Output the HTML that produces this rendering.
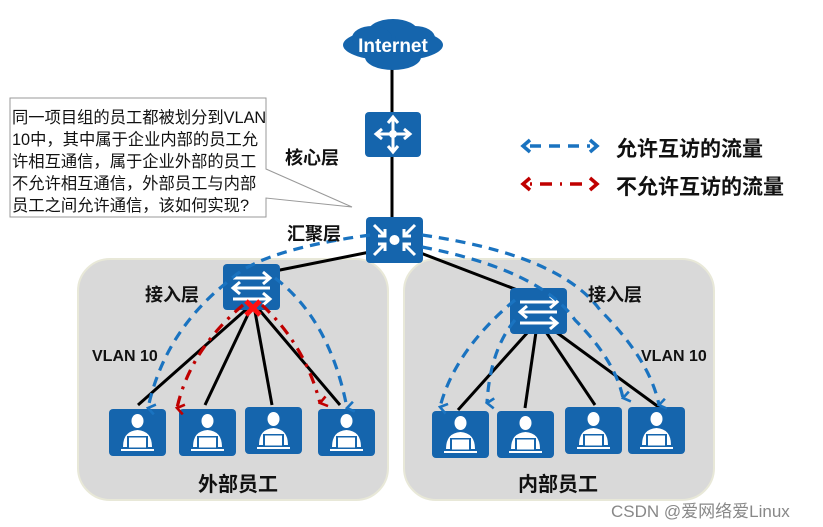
<!DOCTYPE html>
<html><head><meta charset="utf-8"><style>
html,body{margin:0;padding:0;background:#fff;}
svg{display:block;font-family:"Liberation Sans","Noto Sans CJK SC",sans-serif;}
.b{font-weight:bold;fill:#111;}
</style></head><body>
<svg width="823" height="527" viewBox="0 0 823 527" xmlns="http://www.w3.org/2000/svg">
<defs>
<g id="pc">
<rect x="0" y="0" width="57" height="47" rx="4" fill="#1565ad"/>
<ellipse cx="28.5" cy="12" rx="6" ry="7" fill="#fff"/>
<path d="M14 38 Q14 22 28.5 21 Q43 22 43 38 Z" fill="#fff"/>
<rect x="18" y="27" width="21" height="13" fill="#1565ad"/>
<rect x="20" y="28.5" width="17" height="10" fill="#fff"/>
<rect x="12" y="40" width="33" height="2" fill="#fff"/>
</g>
<g id="sw">
<rect x="0" y="0" width="57" height="46" rx="4" fill="#1565ad"/>
<g stroke="#fff" stroke-width="3" fill="none">
<path d="M10 14 H46 M40 8 L47 14 L40 20"/>
<path d="M47 24 H11 M17 18 L10 24 L17 30"/>
<path d="M10 35 H46 M40 29 L47 35 L40 41"/>
</g>
</g>
<marker id="ab" markerWidth="12" markerHeight="12" refX="6" refY="10" orient="auto-start-reverse" markerUnits="userSpaceOnUse" viewBox="0 0 12 12"><path d="M1 3 L6 10 L11 3" stroke="#1a73c0" stroke-width="2.6" fill="none"/></marker>
<marker id="ar" markerWidth="12" markerHeight="12" refX="6" refY="10" orient="auto-start-reverse" markerUnits="userSpaceOnUse" viewBox="0 0 12 12"><path d="M1 3 L6 10 L11 3" stroke="#c00000" stroke-width="2.6" fill="none"/></marker>
</defs>

<rect x="78" y="259" width="310" height="241" rx="32" fill="#d9d9d9" stroke="#e8e8d8" stroke-width="2"/>
<rect x="404" y="259" width="310" height="241" rx="32" fill="#d9d9d9" stroke="#e8e8d8" stroke-width="2"/>

<g stroke="#000" stroke-width="3">
<line x1="392" y1="66" x2="392" y2="220"/>
<line x1="370" y1="252" x2="275" y2="271"/>
<line x1="418" y1="252" x2="520" y2="291"/>
<line x1="250" y1="306" x2="138" y2="405"/>
<line x1="252" y1="306" x2="205" y2="405"/>
<line x1="254" y1="306" x2="272" y2="405"/>
<line x1="256" y1="306" x2="340" y2="405"/>
<line x1="528" y1="332" x2="458" y2="410"/>
<line x1="536" y1="332" x2="525" y2="408"/>
<line x1="546" y1="332" x2="595" y2="405"/>
<line x1="556" y1="332" x2="660" y2="408"/>
</g>

<g fill="#1565ad">
<ellipse cx="393" cy="45" rx="50" ry="16"/>
<ellipse cx="393" cy="32" rx="25" ry="13"/>
<ellipse cx="372" cy="38" rx="20" ry="12"/>
<ellipse cx="415" cy="38" rx="20" ry="12"/>
<ellipse cx="393" cy="57" rx="28" ry="13"/>
</g>
<text x="393" y="52" text-anchor="middle" font-size="19" font-weight="bold" fill="#fff">Internet</text>

<rect x="365" y="112" width="56" height="45" rx="4" fill="#1565ad"/>
<g stroke="#fff" stroke-width="3" fill="none">
<path d="M393 118 V151 M377 134 H409"/>
<path d="M388 123 L393 117 L398 123 M388 146 L393 152 L398 146 M382 129 L376 134 L382 139 M404 129 L410 134 L404 139"/>
</g>
<circle cx="393" cy="134" r="4" fill="#fff"/>

<rect x="366" y="217" width="57" height="46" rx="4" fill="#1565ad"/>
<circle cx="394.5" cy="240" r="5" fill="#fff"/>
<g stroke="#fff" stroke-width="3" fill="none">
<path d="M374 225 L385 236 M378 236 H385 V229"/>
<path d="M415 225 L404 236 M411 236 H404 V229"/>
<path d="M374 255 L385 244 M378 244 H385 V251"/>
<path d="M415 255 L404 244 M411 244 H404 V251"/>
</g>

<use href="#sw" x="223" y="264"/>
<use href="#sw" x="510" y="288"/>

<use href="#pc" x="109" y="409"/>
<use href="#pc" x="179" y="409"/>
<use href="#pc" x="245" y="407"/>
<use href="#pc" x="318" y="409"/>
<use href="#pc" x="432" y="411"/>
<use href="#pc" x="497" y="411"/>
<use href="#pc" x="565" y="407"/>
<use href="#pc" x="628" y="407"/>

<g stroke="#1a73c0" stroke-width="3.2" fill="none" stroke-dasharray="10,7">
<path d="M370 235 Q260 250 230 280 Q165 330 148 408" marker-end="url(#ab)"/>
<path d="M275 278 Q330 320 347 408" marker-end="url(#ab)"/>
<path d="M422 235 Q560 255 600 310 Q650 360 659 405" marker-end="url(#ab)"/>
<path d="M422 247 Q540 270 575 320 Q615 360 623 398" marker-end="url(#ab)"/>
<path d="M515 300 Q455 350 440 407" marker-end="url(#ab)"/>
<path d="M515 320 Q490 350 487 403" marker-end="url(#ab)"/>
</g>

<g stroke="#c00000" stroke-width="3.2" fill="none" stroke-dasharray="11,7,3,7">
<path d="M243 305 Q190 350 177 408" marker-end="url(#ar)"/>
<path d="M262 305 Q305 345 320 403" marker-end="url(#ar)"/>
</g>
<g stroke="#ff1010" stroke-width="5">
<line x1="246" y1="301" x2="260" y2="315"/><line x1="260" y1="301" x2="246" y2="315"/>
</g>

<line x1="530" y1="146" x2="590" y2="146" stroke="#1a73c0" stroke-width="3.5" stroke-dasharray="11,8"/>
<path d="M530 140 L523 146 L530 152 M590 140 L597 146 L590 152" stroke="#1a73c0" stroke-width="3.5" fill="none"/>
<line x1="530" y1="184" x2="590" y2="184" stroke="#c00000" stroke-width="3.5" stroke-dasharray="2,8,12,8"/>
<path d="M530 178 L523 184 L530 190 M590 178 L597 184 L590 190" stroke="#c00000" stroke-width="3.5" fill="none"/>
<text x="616" y="156" font-size="21" class="b">允许互访的流量</text>
<text x="616" y="194" font-size="21" class="b">不允许互访的流量</text>

<path d="M10 98 H266 V169 L352 207 L266 198 V217 H10 Z" fill="#fff" stroke="#999" stroke-width="1"/>
<line x1="266" y1="170" x2="266" y2="197" stroke="#fff" stroke-width="2"/>
<g font-size="16.3" fill="#111">
<text x="12" y="123">同一项目组的员工都被划分到VLAN</text>
<text x="12" y="145">10中，其中属于企业内部的员工允</text>
<text x="12" y="167">许相互通信，属于企业外部的员工</text>
<text x="12" y="189">不允许相互通信，外部员工与内部</text>
<text x="12" y="211">员工之间允许通信，该如何实现?</text>
</g>

<text x="285" y="164" font-size="18" class="b">核心层</text>
<text x="287" y="240" font-size="18" class="b">汇聚层</text>
<text x="145" y="301" font-size="18" class="b">接入层</text>
<text x="588" y="301" font-size="18" class="b">接入层</text>
<text x="92" y="361" font-size="16" class="b">VLAN 10</text>
<text x="641" y="361" font-size="16" class="b">VLAN 10</text>
<text x="238" y="491" font-size="20" text-anchor="middle" class="b">外部员工</text>
<text x="558" y="491" font-size="20" text-anchor="middle" class="b">内部员工</text>
<text x="611" y="517" font-size="17" fill="#888">CSDN @爱网络爱Linux</text>
</svg>
</body></html>
